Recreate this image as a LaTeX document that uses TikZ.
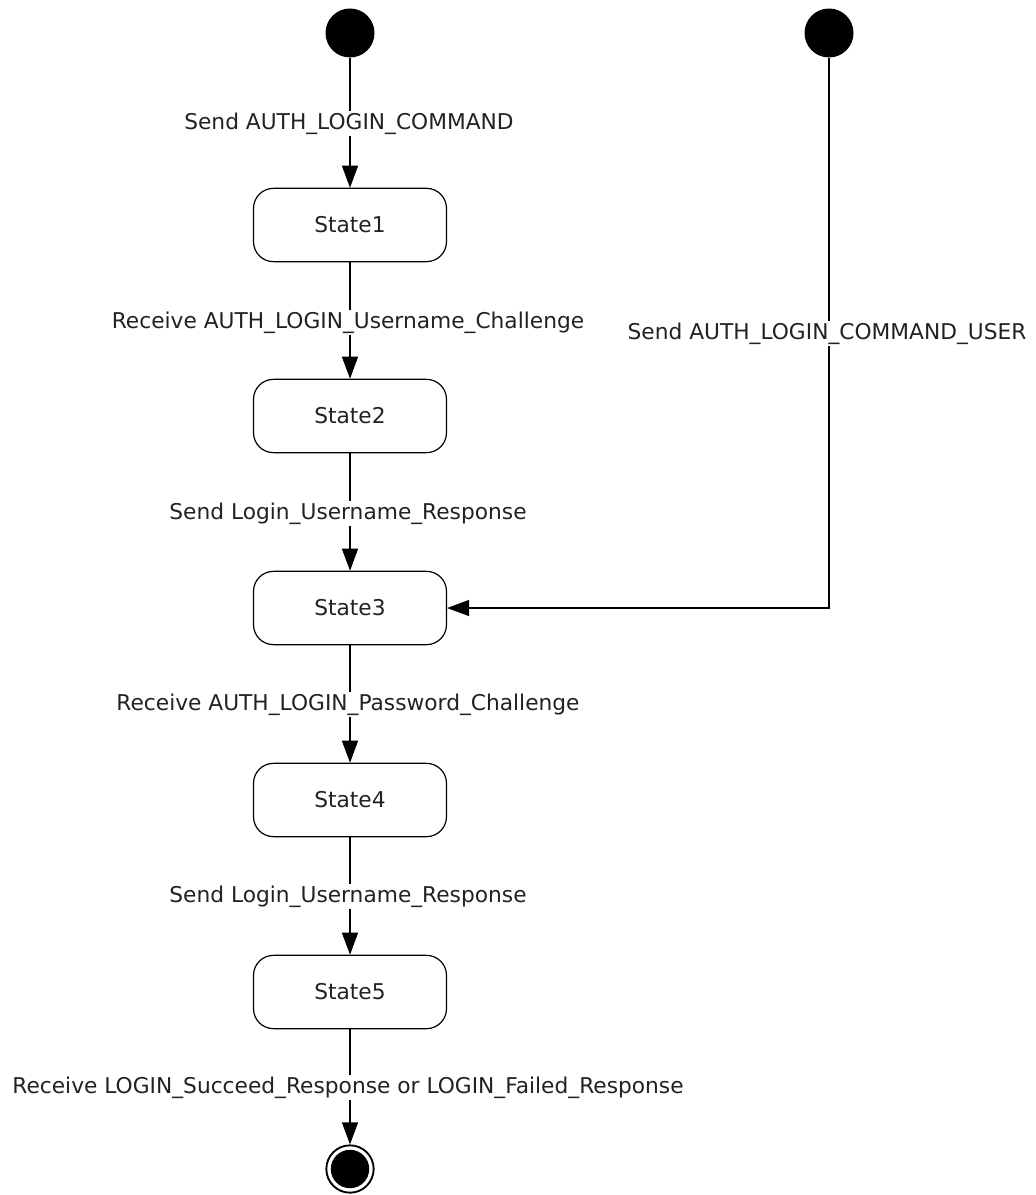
\documentclass[tikz,border=0pt]{standalone}
\usepackage{fontspec}
\setmainfont{DejaVu Sans}
\usetikzlibrary{arrows.meta}
\definecolor{txt}{HTML}{222222}
\begin{document}
\begin{tikzpicture}[x=0.75pt,y=-0.75pt,
  statebox/.style={draw, line width=0.9pt, rounded corners=15pt, minimum width=144.75pt, minimum height=55pt, inner sep=0pt, font=\fontsize{16.3}{18}\selectfont, text=txt},
  initial/.style={circle, fill=black, minimum size=36.75pt, inner sep=0pt},
  lbl/.style={fill=white, inner sep=1pt, font=\fontsize{16.3}{18}\selectfont, text=txt},
  trans/.style={line width=0.9pt, -{Triangle[length=16.5pt,width=12pt]}}]
\useasboundingbox (0,0) rectangle (1035,1195);
\node[initial] (i1) at (350,33) {};
\node[initial] (i2) at (829,33) {};
\node[statebox] (s1) at (350,225) {State1};
\node[statebox] (s2) at (350,416) {State2};
\node[statebox] (s3) at (350,608) {State3};
\node[statebox] (s4) at (350,800) {State4};
\node[statebox] (s5) at (350,992) {State5};
\node[circle, draw, line width=1.4pt, minimum size=35.5pt, inner sep=0pt] (f) at (350,1169) {};
\fill (f.center) circle[radius=14.4pt];
\draw[trans] (i1) -- (s1);
\draw[trans] (s1) -- (s2);
\draw[trans] (s2) -- (s3);
\draw[trans] (s3) -- (s4);
\draw[trans] (s4) -- (s5);
\draw[trans] (s5) -- (f);
\coordinate (c) at (829,608);
\draw[trans] (i2) -- (c) -- (s3.east);
\node[lbl] (l1) at (349,123.5) {Send AUTH\_LOGIN\_COMMAND};
\node[lbl] (l2) at (348,322.5) {Receive AUTH\_LOGIN\_Username\_Challenge};
\node[lbl] (l3) at (348,513.5) {Send Login\_Username\_Response};
\node[lbl] (l4) at (348,704.5) {Receive AUTH\_LOGIN\_Password\_Challenge};
\node[lbl] (l5) at (348,896.5) {Send Login\_Username\_Response};
\node[lbl] (l6) at (348,1087.5) {Receive LOGIN\_Succeed\_Response or LOGIN\_Failed\_Response};
\node[lbl] (l7) at (827,333.5) {Send AUTH\_LOGIN\_COMMAND\_USER};
\end{tikzpicture}
\end{document}
